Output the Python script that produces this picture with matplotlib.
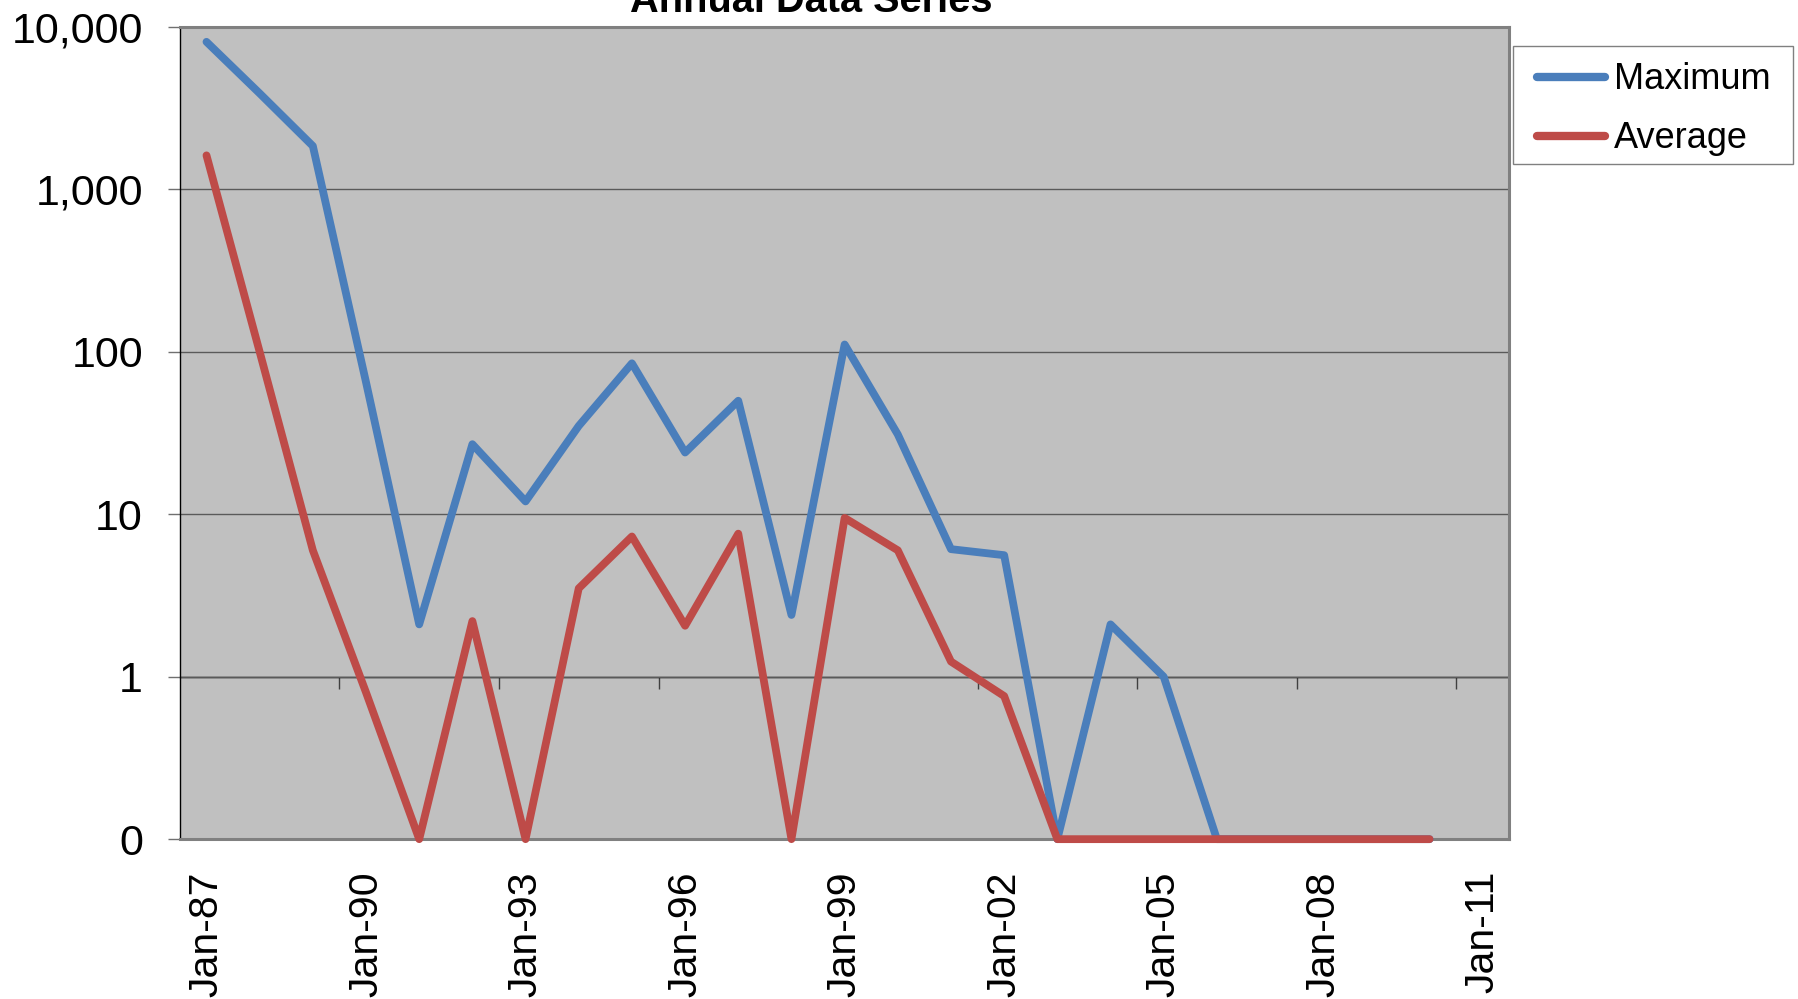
import numpy as np
import matplotlib
matplotlib.use("Agg")
import matplotlib.pyplot as plt
from matplotlib.patches import Rectangle
from matplotlib.ticker import NullLocator

plt.rcParams['font.family'] = ['Liberation Sans', 'DejaVu Sans']

# yearly values (0 = no data above the axis floor)
years = list(range(1987, 2011))
maximum = [8100, 3900, 1850, 65, 2.1, 27, 12, 35, 85, 24, 50, 2.4,
           111, 31, 6.1, 5.6, 0, 2.1, 1.0, 0, 0, 0, 0, 0]
average = [1620, 100, 6.0, 0.8, 0, 2.2, 0, 3.5, 7.3, 2.06, 7.6, 0,
           9.5, 6.0, 1.24, 0.76, 0, 0, 0, 0, 0, 0, 0, 0]

label_years = list(range(1987, 2012, 3))
x_labels = ['Jan-%02d' % (y % 100) for y in label_years]
y_ticks = [0.1, 1, 10, 100, 1000, 10000]
y_labels = ['0', '1', '10', '100', '1,000', '10,000']

blue = '#4A7EBB'
red = '#BE4B48'
floor = 0.1
W, H = 1799, 999

fig = plt.figure(figsize=(W / 100, H / 100), dpi=100)
ax = fig.add_axes([0.100, 0.160, 0.739, 0.813])
ax.set_facecolor('#C0C0C0')

x = np.array(years) + 0.5   # points sit mid-year, like Excel's "between tick marks"
ax.plot(x, np.clip(maximum, floor, None), color=blue, lw=5.6, label='Maximum',
        solid_capstyle='round', clip_on=False, zorder=3)
ax.plot(x, np.clip(average, floor, None), color=red, lw=5.6, label='Average',
        solid_capstyle='round', clip_on=False, zorder=4)

ax.set_yscale('log')
ax.set_ylim(floor, 10000)
ax.set_xlim(1987, 2012)
ax.set_yticks(y_ticks)
ax.set_yticklabels(y_labels, fontsize=31)
ax.yaxis.set_minor_locator(NullLocator())
ax.tick_params(axis='y', length=8.6, width=1, color='#707070', pad=18)
ax.yaxis.grid(True, color='#5A5A5A', lw=1)
ax.set_axisbelow(True)

ax.set_xticks(np.array(label_years) + 0.5)
ax.set_xticklabels(x_labels, rotation=90, ha='center', va='top', fontsize=29.5)
ax.xaxis.set_minor_locator(NullLocator())
ax.tick_params(axis='x', length=0, pad=23)

for s in ['top', 'right', 'bottom']:
    ax.spines[s].set_color('#808080')
    ax.spines[s].set_linewidth(2.2)
ax.spines['left'].set_color('black')
ax.spines['left'].set_linewidth(1)

# horizontal axis crosses at 1 -> black line with its own tick marks
sec = ax.secondary_xaxis(0.2)
sec.set_xticks(list(range(1990, 2012, 3)))
sec.xaxis.set_ticks_position('bottom')
sec.tick_params(axis='x', direction='out', length=8.6, width=1, color='#404040',
                labelbottom=False, labeltop=False)
sec.xaxis.set_minor_locator(NullLocator())
for s in ['top', 'bottom']:
    sec.spines[s].set_color('black')
    sec.spines[s].set_linewidth(1)

# legend box drawn separately (behind the axes) so its padding can differ
fig.patches.append(Rectangle((1513 / W, 1 - 164 / H), 280 / W, 118 / H,
                             transform=fig.transFigure, facecolor='white',
                             edgecolor='#808080', lw=1, zorder=-1))
leg = ax.legend(loc='upper left', bbox_to_anchor=(1523 / W, 1 - 48.5 / H),
                bbox_transform=fig.transFigure, fontsize=26, frameon=False,
                handlelength=1.9, handletextpad=0.25, borderpad=0.38,
                labelspacing=0.67, borderaxespad=0)
for h in leg.get_lines():
    h.set_linewidth(6)

fig.text(811 / W, 1 - 12 / H, 'Annual Data Series', ha='center',
         va='baseline', fontsize=28.6, fontweight='bold')

fig.savefig('out.png', dpi=100)
